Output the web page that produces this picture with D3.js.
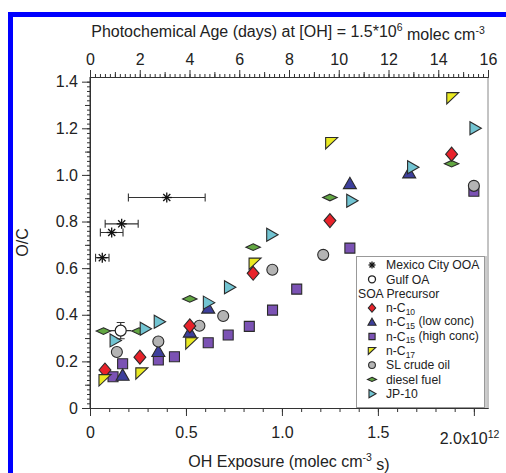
<!DOCTYPE html>
<html>
<head>
<meta charset="utf-8">
<script src="https://cdn.jsdelivr.net/npm/d3@7/dist/d3.min.js"></script>
<style>
  html, body { margin: 0; padding: 0; background: #fff; }
  svg { display: block; font-family: "Liberation Sans", Arial, sans-serif; }
</style>
</head>
<body>
<svg id="chart" width="506" height="473"></svg>
<script>
// O/C ratio versus OH exposure (units of 1e12 molec cm^-3 s)

// Ambient observations, with horizontal error bars (exposure uncertainty)
const mexicoX   = [0.064, 0.113, 0.165, 0.40];
const mexicoY   = [0.645, 0.753, 0.790, 0.903];
const mexicoErr = [0.035, 0.059, 0.086, 0.20];

const gulfX = [0.160], gulfY = [0.332], gulfErrX = [0.055], gulfErrY = [0.035];

// SOA precursor experiments
const nC10X = [0.078, 0.26, 0.52, 0.85, 1.25, 1.884];
const nC10Y = [0.163, 0.218, 0.352, 0.578, 0.804, 1.089];

const nC15lowX = [0.17, 0.356, 0.52, 0.616, 1.354, 1.663];
const nC15lowY = [0.140, 0.242, 0.325, 0.428, 0.962, 1.008];

const nC15highX = [0.12, 0.17, 0.356, 0.44, 0.616, 0.72, 0.83, 0.951, 1.077, 1.354, 2.0];
const nC15highY = [0.134, 0.190, 0.206, 0.220, 0.280, 0.313, 0.350, 0.420, 0.510, 0.686, 0.930];

const nC17X = [0.078, 0.27, 0.53, 0.86, 1.259, 1.89];
const nC17Y = [0.120, 0.149, 0.278, 0.620, 1.137, 1.330];

const crudeX = [0.14, 0.356, 0.57, 0.694, 0.95, 1.215, 2.0];
const crudeY = [0.240, 0.285, 0.353, 0.395, 0.593, 0.657, 0.953];

const dieselX = [0.07, 0.255, 0.52, 0.85, 1.25, 1.884];
const dieselY = [0.330, 0.330, 0.468, 0.690, 0.903, 1.048];

const jp10X = [0.13, 0.287, 0.36, 0.616, 0.726, 0.946, 1.363, 1.68, 2.005];
const jp10Y = [0.290, 0.340, 0.370, 0.452, 0.518, 0.743, 0.889, 1.033, 1.200];

// Axis ticks
const bottomTicks = [0, 0.5, 1.0, 1.5, 2.0];
const bottomTickLabels = ["0", "0.5", "1.0", "1.5", "2.0x10"];
const topTicks = [0, 2, 4, 6, 8, 10, 12, 14, 16];
const leftTicks = [0, 0.2, 0.4, 0.6, 0.8, 1.0, 1.2, 1.4];
const leftTickLabels = ["0", "0.2", "0.4", "0.6", "0.8", "1.0", "1.2", "1.4"];

// Photochemical age (days) at [OH] = 1.5e6 molec cm^-3
const OH_CONC = 1.5e6;
const daysToExposure = d => d * 86400 * OH_CONC / 1e12;

const svg = d3.select("#chart");

const plotL = 90, plotR = 488, plotT = 77, plotB = 408;
const x = d3.scaleLinear().domain([0, daysToExposure(16)]).range([plotL, plotR]);
const xTop = d3.scaleLinear().domain([0, 16]).range([plotL, plotR]);
const y = d3.scaleLinear().domain([0, 1.42]).range([plotB, plotT]);

const FONT = 16, SUP = 10.5;

// blue outer frame
svg.append("rect").attr("x", 10.5).attr("y", 14.5).attr("width", 520).attr("height", 480)
  .attr("fill", "none").attr("stroke", "#0000ff").attr("stroke-width", 5);

// right frame edge
svg.append("line").attr("x1", plotR).attr("x2", plotR).attr("y1", plotT).attr("y2", plotB)
  .attr("stroke", "#888").attr("stroke-width", 1);

const axisColor = "#333";
function styleAxis(g) {
  g.selectAll("path.domain").attr("stroke", axisColor).attr("stroke-width", 1);
  g.selectAll(".tick line").attr("stroke", axisColor).attr("stroke-width", 1);
  g.selectAll(".tick text").attr("fill", "#222").style("font-size", FONT + "px")
    .style("font-family", "Liberation Sans, Arial, sans-serif");
}

// bottom axis: minor ticks every 0.1, major every 0.5
const gBottomMinor = svg.append("g").attr("transform", `translate(0,${plotB})`)
  .call(d3.axisBottom(x).tickValues(d3.range(0, 21).map(i => i / 10)).tickSize(4).tickSizeOuter(0).tickFormat(""));
styleAxis(gBottomMinor);
const gBottom = svg.append("g").attr("transform", `translate(0,${plotB})`)
  .call(d3.axisBottom(x).tickValues(bottomTicks).tickSize(8).tickSizeOuter(0)
    .tickFormat((d, i) => bottomTickLabels[i]).tickPadding(11));
styleAxis(gBottom);
gBottom.selectAll(".tick text").each(function (d, i) {
  if (i === bottomTickLabels.length - 1) {
    const t = d3.select(this).attr("dy", "1.05em").attr("dx", "-0.3em");
    t.append("tspan").attr("dy", "-0.55em").style("font-size", SUP + "px").text("12");
  }
});

// top axis: photochemical age in days
const gTopMinor = svg.append("g").attr("transform", `translate(0,${plotT})`)
  .call(d3.axisTop(xTop).tickValues(d3.range(0, 81).map(i => i / 5)).tickSize(3).tickSizeOuter(0).tickFormat(""));
styleAxis(gTopMinor);
const gTopMid = svg.append("g").attr("transform", `translate(0,${plotT})`)
  .call(d3.axisTop(xTop).tickValues(d3.range(1, 16, 2)).tickSize(5).tickSizeOuter(0).tickFormat(""));
styleAxis(gTopMid);
const gTop = svg.append("g").attr("transform", `translate(0,${plotT})`)
  .call(d3.axisTop(xTop).tickValues(topTicks).tickSize(7).tickSizeOuter(0).tickFormat(d3.format("d")).tickPadding(5));
styleAxis(gTop);

// left axis
const gLeftMinor = svg.append("g").attr("transform", `translate(${plotL},0)`)
  .call(d3.axisLeft(y).tickValues(d3.range(0, 71).map(i => i / 50)).tickSize(3).tickSizeOuter(0).tickFormat(""));
styleAxis(gLeftMinor);
const gLeftMid = svg.append("g").attr("transform", `translate(${plotL},0)`)
  .call(d3.axisLeft(y).tickValues(d3.range(0, 14).map(i => i / 10 + 0.1).filter((d, i) => i % 2 === 0)).tickSize(5).tickSizeOuter(0).tickFormat(""));
styleAxis(gLeftMid);
const gLeft = svg.append("g").attr("transform", `translate(${plotL},0)`)
  .call(d3.axisLeft(y).tickValues(leftTicks).tickSize(8).tickSizeOuter(0)
    .tickFormat((d, i) => leftTickLabels[i]).tickPadding(4));
styleAxis(gLeft);
gLeft.select("path.domain").attr("d", `M0,${plotB}V${plotT}`);

// axis titles
const txt = (xp, yp) => svg.append("text").attr("x", xp).attr("y", yp)
  .attr("text-anchor", "middle").attr("fill", "#222").style("font-size", FONT + "px");
const tBottom = txt(289, 467);
tBottom.append("tspan").text("OH Exposure (molec cm");
tBottom.append("tspan").attr("dy", "-0.55em").style("font-size", SUP + "px").text("-3");
tBottom.append("tspan").attr("dy", "0.55em").text(" s)");

const tTop = txt(288, 37);
tTop.append("tspan").text("Photochemical Age (days) at [OH] = 1.5*10");
tTop.append("tspan").attr("dy", "-0.55em").style("font-size", SUP + "px").text("6");
tTop.append("tspan").attr("dy", "0.55em").text(" molec cm");
tTop.append("tspan").attr("dy", "-0.55em").style("font-size", SUP + "px").text("-3");

svg.append("text").attr("transform", `translate(28,${(plotT + plotB) / 2}) rotate(-90)`)
  .attr("text-anchor", "middle").attr("fill", "#222").style("font-size", FONT + "px").text("O/C");

// marker shapes
const shapes = {
  diamond: s => `M0,${-s}L${s * 0.85},0L0,${s}L${-s * 0.85},0Z`,
  flatDiamond: s => `M0,${-s * 0.55}L${s * 1.2},0L0,${s * 0.55}L${-s * 1.2},0Z`,
  triUp: s => `M0,${-s}L${s},${s * 0.75}L${-s},${s * 0.75}Z`,
  triRight: s => `M${s},0L${-s * 0.75},${-s}L${-s * 0.75},${s}Z`,
  triCorner: s => `M${-s},${-s * 0.9}L${s},${-s * 0.9}L${-s},${s}Z`,
  square: s => `M${-s},${-s}H${s}V${s}H${-s}Z`,
  circle: s => `M${s},0A${s},${s} 0 1,1 ${-s},0A${s},${s} 0 1,1 ${s},0Z`
};

const series = [
  { name: "n-C15 (high conc)", xs: nC15highX, ys: nC15highY, shape: "square", size: 5, fill: "#7b52b4" },
  { name: "n-C15 (low conc)", xs: nC15lowX, ys: nC15lowY, shape: "triUp", size: 6.5, fill: "#3d3f9c" },
  { name: "SL crude oil", xs: crudeX, ys: crudeY, shape: "circle", size: 5.5, fill: "#b4b4b4" },
  { name: "diesel fuel", xs: dieselX, ys: dieselY, shape: "flatDiamond", size: 6, fill: "#62a742" },
  { name: "n-C10", xs: nC10X, ys: nC10Y, shape: "diamond", size: 7, fill: "#e8222a" },
  { name: "n-C17", xs: nC17X, ys: nC17Y, shape: "triCorner", size: 6, fill: "#eaea22" },
  { name: "JP-10", xs: jp10X, ys: jp10Y, shape: "triRight", size: 6.5, fill: "#72c4d2" }
];
const markerStroke = "#2a2a2a";

const gPts = svg.append("g");
series.forEach(s => {
  gPts.selectAll(null).data(d3.zip(s.xs, s.ys)).join("path")
    .attr("transform", d => `translate(${x(d[0])},${y(d[1])})`)
    .attr("d", shapes[s.shape](s.size))
    .attr("fill", s.fill).attr("stroke", markerStroke).attr("stroke-width", 1.1);
});

// asterisk marker
function asterisk(g, cx, cy, r) {
  const a = g.append("g").attr("transform", `translate(${cx},${cy})`)
    .attr("stroke", "#111").attr("stroke-width", 1.3);
  [0, 45, 90, 135].forEach(ang => {
    const rad = ang * Math.PI / 180;
    a.append("line").attr("x1", -r * Math.cos(rad)).attr("y1", -r * Math.sin(rad))
      .attr("x2", r * Math.cos(rad)).attr("y2", r * Math.sin(rad));
  });
}

// Mexico City OOA with horizontal error bars
const gMex = svg.append("g");
d3.range(mexicoX.length).forEach(i => {
  const cy = y(mexicoY[i]);
  const x0 = x(mexicoX[i] - mexicoErr[i]), x1 = x(mexicoX[i] + mexicoErr[i]);
  gMex.append("path").attr("d", `M${x0},${cy}H${x1}M${x0},${cy - 4}V${cy + 4}M${x1},${cy - 4}V${cy + 4}`)
    .attr("stroke", "#333").attr("stroke-width", 1.1).attr("fill", "none");
  asterisk(gMex, x(mexicoX[i]), cy, 5);
});

// Gulf OA with error bars
const gGulf = svg.append("g");
d3.range(gulfX.length).forEach(i => {
  const cx = x(gulfX[i]), cy = y(gulfY[i]);
  const x0 = x(gulfX[i] - gulfErrX[i]), x1 = x(gulfX[i] + gulfErrX[i]);
  const y0 = y(gulfY[i] + gulfErrY[i]), y1 = y(gulfY[i] - gulfErrY[i]);
  gGulf.append("path").attr("d", `M${x0},${cy}H${x1}M${cx},${y0}V${y1}M${cx - 4},${y0}H${cx + 4}M${cx - 4},${y1}H${cx + 4}`)
    .attr("stroke", "#333").attr("stroke-width", 1.1).attr("fill", "none");
  gGulf.append("path").attr("transform", `translate(${cx},${cy})`).attr("d", shapes.circle(5.5))
    .attr("fill", "#fff").attr("stroke", "#222").attr("stroke-width", 1.2);
});

// legend
const lg = svg.append("g");
lg.append("rect").attr("x", 356.5).attr("y", 256.5).attr("width", 128).attr("height", 151)
  .attr("fill", "#fff").attr("stroke", "#999").attr("stroke-width", 1);
lg.append("line").attr("x1", 486).attr("x2", 486).attr("y1", 256).attr("y2", 408).attr("stroke", "#999");
const lx = 372, ltx = 386, ly0 = 265, ldy = 14.3;
const lText = (xp, yp) => lg.append("text").attr("x", xp).attr("y", yp).attr("dy", "0.35em")
  .attr("fill", "#222").style("font-size", "12.2px");
asterisk(lg, lx, ly0, 3.5);
lText(ltx, ly0).text("Mexico City OOA");
lg.append("path").attr("transform", `translate(${lx},${ly0 + ldy})`).attr("d", shapes.circle(3.5))
  .attr("fill", "#fff").attr("stroke", "#222").attr("stroke-width", 1.3);
lText(ltx, ly0 + ldy).text("Gulf OA");
lText(358, ly0 + 2 * ldy).text("SOA Precursor");
const legendOrder = ["n-C10", "n-C15 (low conc)", "n-C15 (high conc)", "n-C17", "SL crude oil", "diesel fuel", "JP-10"];
legendOrder.forEach((nm, i) => {
  const s = series.find(d => d.name === nm);
  const yy = ly0 + (3 + i) * ldy;
  lg.append("path").attr("transform", `translate(${lx},${yy})`).attr("d", shapes[s.shape](s.size * 0.62))
    .attr("fill", s.fill).attr("stroke", markerStroke).attr("stroke-width", 1.1);
  const t = lText(ltx, yy);
  const m = nm.match(/^n-C(\d+)(.*)$/);
  if (m) {
    t.append("tspan").text("n-C");
    t.append("tspan").attr("dy", "0.3em").style("font-size", "8.5px").text(m[1]);
    t.append("tspan").attr("dy", "-0.3em").text(m[2]);
  } else {
    t.text(nm);
  }
});
</script>
</body>
</html>
